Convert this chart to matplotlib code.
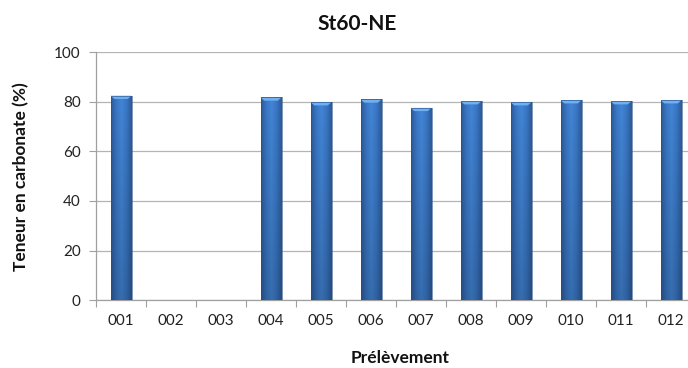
import numpy as np
import matplotlib
matplotlib.use("Agg")
import matplotlib.pyplot as plt
from matplotlib.colors import LinearSegmentedColormap
from matplotlib.patches import Polygon

plt.rcParams['font.family'] = ['Lato', 'DejaVu Sans']

# Échantillons et teneurs en carbonate (%) ; 002 et 003 non mesurés
samples = ["001", "002", "003", "004", "005", "006",
           "007", "008", "009", "010", "011", "012"]
carbonate = [82.4, np.nan, np.nan, 81.7, 79.8, 80.9,
             77.5, 80.2, 79.8, 80.6, 80.2, 80.6]

title = "St60-NE"
xlabel = "Prélèvement"
ylabel = "Teneur en carbonate (%)"

fig = plt.figure(figsize=(6.88, 3.68), dpi=100)
ax = fig.add_axes([96 / 688, 1 - 300.3 / 368, 600 / 688, 248.3 / 368])

x = np.arange(len(samples))
vals = np.nan_to_num(np.array(carbonate, dtype=float))
bars = ax.bar(x, vals, width=0.42, color="none", edgecolor="none", zorder=3)

# Dégradé "cylindre" : bords sombres, centre plus clair
side = LinearSegmentedColormap.from_list(
    "cyl", ["#2c5b98", "#3a76c4", "#4286d6", "#3a76c4", "#2c5b98"])
grad = np.linspace(0, 1, 64)[None, :]
shade = np.linspace(0.82, 1.0, 64)[:, None]

for b, v in zip(bars, vals):
    if v <= 0:
        continue
    x0, w, h = b.get_x(), b.get_width(), b.get_height()
    rgb = side(np.repeat(grad, 64, axis=0))[:, :, :3] * shade[:, :, None]
    im = ax.imshow(rgb, extent=(x0, x0 + w, 0, h), origin="lower",
                   aspect="auto", zorder=3, interpolation="bilinear")
    im.set_clip_path(b)
    # Biseau clair au sommet
    bev = 1.3
    ax.add_patch(Polygon([(x0, h), (x0 + w, h), (x0 + w * 0.82, h - bev),
                          (x0 + w * 0.18, h - bev)], closed=True,
                         facecolor="#6fb0f2", edgecolor="none", zorder=4))
    ax.plot([x0, x0, x0 + w, x0 + w], [0, h, h, 0], color="#2a5189",
            lw=0.6, zorder=4, alpha=0.7)

ax.set_xlim(-0.5, len(samples) - 0.5)
ax.set_ylim(0, 100)
ax.set_yticks(np.arange(0, 101, 20))
ax.set_xticks(x)
ax.set_xticklabels(samples)
ax.set_xticks(np.arange(-0.5, len(samples), 1), minor=True)
ax.tick_params(axis="x", which="major", length=0, pad=10,
               labelsize=11, labelcolor="#222222")
ax.tick_params(axis="x", which="minor", length=5, color="#a0a0a0", width=0.8)
ax.tick_params(axis="y", length=5, color="#a0a0a0", width=0.8, pad=6,
               labelsize=11, labelcolor="#222222")

ax.grid(axis="y", color="#b4b4b4", lw=0.9, zorder=0)
ax.set_axisbelow(True)
for s in ["top", "right"]:
    ax.spines[s].set_visible(False)
for s in ["left", "bottom"]:
    ax.spines[s].set_color("#a0a0a0")
    ax.spines[s].set_linewidth(0.9)

fig.text(357 / 688, 1 - 24 / 368, title, ha="center", va="center",
         fontsize=15, fontweight="bold", color="#111111")
fig.text(400 / 688, 1 - 358 / 368, xlabel, ha="center", va="center",
         fontsize=12.5, fontweight="bold", color="#111111")
fig.text(21 / 688, 1 - 177 / 368, ylabel, ha="center", va="center",
         rotation=90, fontsize=12.5, fontweight="bold", color="#111111")

fig.savefig("out.png", dpi=100)
